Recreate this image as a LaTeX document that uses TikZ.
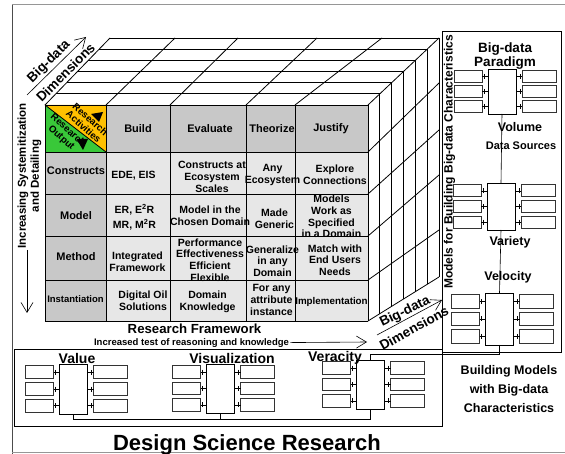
\documentclass[tikz,border=0pt]{standalone}
\usepackage{fontspec}
\setmainfont{Liberation Sans}
\usetikzlibrary{arrows.meta}

\definecolor{hdrgray}{RGB}{200,200,200}
\definecolor{bodygray}{RGB}{231,231,231}
\definecolor{actyellow}{RGB}{255,192,0}
\definecolor{outgreen}{RGB}{57,200,57}
\definecolor{framegray}{RGB}{150,150,150}

\newcommand\fsz[2]{\fontsize{#1}{#2}\selectfont\bfseries}

\tikzset{
  every node/.style={inner sep=0pt, outer sep=0pt},
  cellfont/.style={font=\fsz{10.5}{11.7}, align=center},
  hdrfont/.style={font=\fsz{11}{12}, align=center},
  gridline/.style={line width=0.8pt},
  link/.style={line width=0.6pt},
  cbox/.style={draw, line width=0.6pt, fill=white, minimum width=28pt},
  lbox/.style={draw=black!80, line width=0.9pt, fill=white, minimum width=28pt},
  rbox/.style={draw=black!80, line width=0.9pt, fill=white, minimum width=34pt},
  barb/.style={-{Straight Barb[length=10pt,width=12pt]}, line width=0.6pt},
}

% one org-chart block: centre box with three boxes on each side
% #1 name, #2 centre x, #3 top y, #4 bottom y
\newcommand\orgblock[4]{%
  \pgfmathsetmacro\obH{#4-#3}%
  \pgfmathsetmacro\obh{\obH/3-3.5}%
  \node[cbox, minimum height=\obH pt] (#1) at (#2,{(#3+#4)/2}) {};
  \foreach \i in {1,2,3}{%
    \pgfmathsetmacro\oby{#3+(2*\i-1)*\obH/6}%
    \node[lbox, minimum height=\obh pt, anchor=east] (#1-l\i) at ({#2-20},\oby) {};
    \node[rbox, minimum height=\obh pt, anchor=west] (#1-r\i) at ({#2+20},\oby) {};
    \draw[link] (#1-l\i.east) -- (#1-l\i.east -| #1.west);
    \draw[link] (#1-r\i.west) -- (#1-r\i.west -| #1.east);
    \draw[link] ([xshift=2pt]#1-l\i.east) ++(0,-2.5) -- ++(0,5);
    \draw[link] ([xshift=-2pt]#1-r\i.west) ++(0,-2.5) -- ++(0,5);
  }%
}

\begin{document}
\begin{tikzpicture}[x=1pt,y=-1pt]
\useasboundingbox (0,0) rectangle (565,454);

% outer frame
\draw[framegray, line width=1pt] (565,5) -- (12,5);
\draw[black!70, line width=1pt] (12,5) -- (12,454);
\draw[framegray, line width=1pt] (12,452) -- (565,452);

% panels
\draw[line width=0.8pt] (442,31) rectangle (561,352);
\draw[line width=0.8pt] (14.5,349) rectangle (442,426);

% front face of the cube
\fill[hdrgray] (106,105) rectangle (368,152);
\fill[hdrgray] (45,152) rectangle (106,321);
\fill[bodygray] (106,152) rectangle (368,321);
\fill[actyellow] (45,105) -- (106,105) -- (106,152) -- cycle;
\fill[outgreen] (45,105) -- (45,152) -- (106,152) -- cycle;
\draw[gridline] (45,105) -- (106,152);
\foreach \x in {45,106,170,246,295,368} \draw[gridline] (\x,105) -- (\x,321);
\foreach \y in {105,152,194,236,280,321} \draw[gridline] (45,\y) -- (368,\y);

% top face
\foreach \k in {1,...,6}
  \draw[gridline] ({45+10.83*\k},{105-11.17*\k}) -- ({368+11.83*\k},{105-11.17*\k});
\foreach \p/\q in {45/110,106/175,170/238,246/317,295/382,368/439}
  \draw[gridline] (\p,105) -- (\q,38);

% right face
\foreach \k in {1,...,6}
  \draw[gridline] ({368+11.83*\k},{105-11.17*\k}) -- ({368+11.83*\k},{321-7.33*\k});
\foreach \p/\q in {152/83,194/130,236/175,280/230,321/277}
  \draw[gridline] (368,\p) -- (439,\q);

% corner cell
\node[font=\fsz{9.6}{10}, align=center, rotate=-42] (ract) at (87,123) {Research\\Activities};
\node[font=\fsz{9.6}{10}, align=center, rotate=-42] (rout) at (64.5,134) {Research\\Output};
\fill (91,114) -- (103,112) -- (99,122) -- cycle;
\fill (76.5,139) -- (88,139) -- (83,150) -- cycle;

% column headers
\node[hdrfont] (hbuild) at (138,129) {Build};
\node[hdrfont] (heval) at (210,129) {Evaluate};
\node[hdrfont] (htheo) at (272,129) {Theorize};
\node[hdrfont] (hjust) at (331,129) {Justify};

% row headers
\node[hdrfont] (rcons) at (76,171) {Constructs};
\node[hdrfont] (rmodel) at (76,216) {Model};
\node[hdrfont] (rmeth) at (76,257) {Method};
\node[font=\fsz{9.5}{11}] (rinst) at (75.5,299.5) {Instantiation};

% Constructs row
\node[cellfont] (c11) at (133.5,175.5) {EDE, EIS};
\node[cellfont] (c12) at (212,177) {Constructs at\\Ecosystem\\Scales};
\node[cellfont] (c13) at (272.5,175) {Any\\Ecosystem};
\node[cellfont] (c14) at (335,175) {Explore\\Connections};

% Model row
\node[cellfont, font=\fsz{10.5}{15}] (c21) at (134.5,217.5) {ER, E\textsuperscript{2}R\\MR, M\textsuperscript{2}R};
\node[cellfont] (c22) at (210,215.5) {Model in the\\Chosen Domain};
\node[cellfont] (c23) at (274.5,219) {Made\\Generic};
\node[cellfont] (c24) at (331.5,216.5) {Models\\Work as\\Specified\\in a Domain};

% Method row
\node[cellfont] (c31) at (137.5,261.5) {Integrated\\Framework};
\node[cellfont] (c32) at (210,260) {Performance\\Effectiveness\\Efficient\\Flexible};
\node[cellfont] (c33) at (272.5,261) {Generalize\\in any\\Domain};
\node[cellfont] (c34) at (335,260) {Match with\\End Users\\Needs};

% Instantiation row
\node[cellfont] (c41) at (143,300.5) {Digital Oil\\Solutions};
\node[cellfont] (c42) at (207.5,301.5) {Domain\\Knowledge};
\node[cellfont] (c43) at (271.5,300) {For any\\attribute\\instance};
\node[cellfont, font=\fsz{9.8}{11}] (c44) at (331.5,301.5) {Implementation};

% big-data dimension arrows
\coordinate (dtl1) at (27,95);
\coordinate (dtl2) at (86,37);
\draw[barb] (dtl1) -- (dtl2);
\node[font=\fsz{13.5}{14}, rotate=45] (bdtl) at (49,62) {Big-data};
\node[font=\fsz{13.5}{14}, rotate=45] (dmtl) at (65.5,72.5) {Dimensions};

\coordinate (dbr1) at (377,335);
\coordinate (dbr2) at (442,300);
\draw[barb] (dbr1) -- (dbr2);
\node[font=\fsz{13.5}{14}, rotate=26] (bdbr) at (405,312) {Big-data};
\node[font=\fsz{13.5}{14}, rotate=29] (dmbr) at (414,328) {Dimensions};

% vertical axis
\node[font=\fsz{11.5}{13}, align=center, rotate=90] (axv) at (29.5,176) {Increasing Systemitization\\and Detailing};
\coordinate (av1) at (27,250);
\coordinate (av2) at (27,313);
\draw[barb] (av1) -- (av2);

% horizontal axis
\node[font=\fsz{13.2}{14}, anchor=base] (rfw) at (194.5,334) {Research Framework};
\node[font=\fsz{9.5}{10}, anchor=base] (inc) at (191.5,345) {Increased test of reasoning and knowledge};
\coordinate (ah2) at (367,342);
\path (inc.east) ++(1.5,0) coordinate (ah1);
\draw[barb] (ah1) -- (ah2);

% right panel
\node[font=\fsz{12}{13}, rotate=90] (mfb) at (449.5,162) {Models for Building Big-data Characteristics};
\node[font=\fsz{13.5}{14}, align=center] (bdp) at (505,56) {Big-data\\Paradigm};

\orgblock{vol}{502}{69}{114}
\orgblock{var}{501}{183}{230}
\orgblock{vel}{499.5}{293}{345}

\draw[link] (vol.south) -- (var.north);
\draw[link] (var.south) -- (vel.north);

\node[font=\fsz{12.5}{13}] (tvol) at (520,127) {Volume};
\node[font=\fsz{11}{12}] (tds) at (521,146) {Data Sources};
\node[font=\fsz{12.5}{13}] (tvar) at (510,242) {Variety};
\node[font=\fsz{12.5}{13}] (tvel) at (508,277) {Velocity};

\node[font=\fsz{12.5}{19}, align=center] (bmc) at (509,389) {Building Models\\with Big-data\\Characteristics};

% bottom panel
\orgblock{val}{73.5}{364}{414}
\orgblock{vis}{220.5}{364}{413}
\orgblock{ver}{370.5}{360}{409}

\draw[link] (vel.south) -- ++(0,9) -| (ver.north);
\draw[link] (val.south) -- ++(0,5) -| (ver.south);
\draw[link] (vis.south) -- ++(0,6);

\node[font=\fsz{14}{15}, anchor=base] (tval) at (77,363) {Value};
\node[font=\fsz{14}{15}, anchor=base] (tvis) at (232,363) {Visualization};
\node[font=\fsz{14}{15}, anchor=base] (tver) at (335,361) {Veracity};

% title
\node[font=\fsz{22}{24}, anchor=base] (dsr) at (247,450) {Design Science Research};
\end{tikzpicture}
\end{document}
